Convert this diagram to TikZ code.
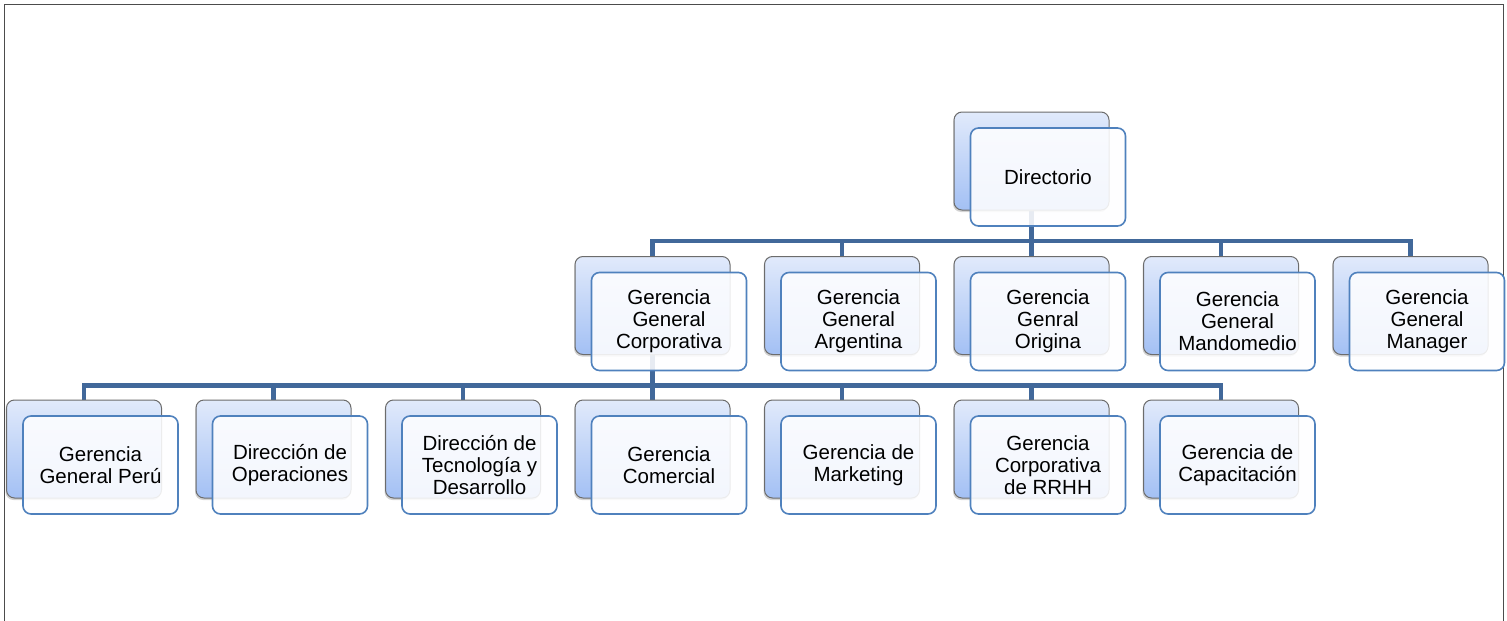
\documentclass[tikz,border=0pt]{standalone}
\usepackage{fontspec}
\setmainfont{Liberation Sans}
\usetikzlibrary{positioning,shadows,backgrounds}
\definecolor{linkblue}{HTML}{41689A}
\definecolor{rimblue}{HTML}{4F81BD}
\definecolor{topblue}{HTML}{E1EAFB}
\definecolor{lowblue}{HTML}{A3C0F4}
\tikzset{backbox/.style={draw=gray!85!black, line width=1pt, rounded corners=8pt,
           top color=topblue, bottom color=lowblue,
           minimum width=155pt, minimum height=98pt,
           drop shadow={shadow xshift=-1pt,shadow yshift=-2pt,opacity=.35}},
         frontbox/.style={draw=rimblue, line width=1.6pt, rounded corners=8pt,
           fill=white!97!topblue, fill opacity=.88, text opacity=1,
           minimum width=155pt, minimum height=98pt, align=center,
           font=\fontsize{20.5}{22}\selectfont, xshift=16.5pt, yshift=-16pt},
         link/.style={draw=linkblue, line width=4.5pt},
         elbow/.style={to path={-- ++(0,30.5) -| (\tikztotarget)}}}

\begin{document}
\begin{tikzpicture}[x=1pt, y=-1pt]
   \useasboundingbox (0,0) rectangle (1507,621);
   \draw[gray!60!black, line width=1.5pt] (4.5,621) -- (4.5,4.5) -- (1503.5,4.5) -- (1503.5,621);
   % top
   \node[backbox] (dir-b) at (1031.5,161) {};
   \node[frontbox] (dir) at (dir-b) {Directorio};
   % second row
   \foreach \nm/\txt [count=\i from 0] in
     {ggc/{Gerencia\\General\\Corporativa}, gga/{Gerencia\\General\\Argentina},
      ggo/{Gerencia\\Genral\\Origina}, ggm/{Gerencia\\General\\Mandomedio},
      ggman/{Gerencia\\General\\Manager}}
   {
     \node[backbox] (\nm-b) at ({652.5+189.5*\i},305.5) {};
     \node[frontbox] (\nm) at (\nm-b) {\txt};
   }
   % third row
   \foreach \nm/\txt [count=\i from 0] in
     {ggp/{Gerencia\\General Perú}, dop/{Dirección de\\Operaciones},
      dtd/{Dirección de\\Tecnología y\\Desarrollo}, gcom/{Gerencia\\Comercial},
      gmk/{Gerencia de\\Marketing}, grh/{Gerencia\\Corporativa\\de RRHH},
      gcap/{Gerencia de\\Capacitación}}
   {
     \node[backbox] (\nm-b) at ({84+189.5*\i},449) {};
     \node[frontbox] (\nm) at (\nm-b) {\txt};
   }
   \begin{scope}[on background layer]
     \foreach \nm in {ggc,gga,ggo,ggm,ggman}
       \draw[link] (dir-b.south) to[elbow] (\nm-b.north);
     \foreach \nm in {ggp,dop,dtd,gcom,gmk,grh,gcap}
       \draw[link] (ggc-b.south) to[elbow] (\nm-b.north);
   \end{scope}
\end{tikzpicture}
\end{document}
